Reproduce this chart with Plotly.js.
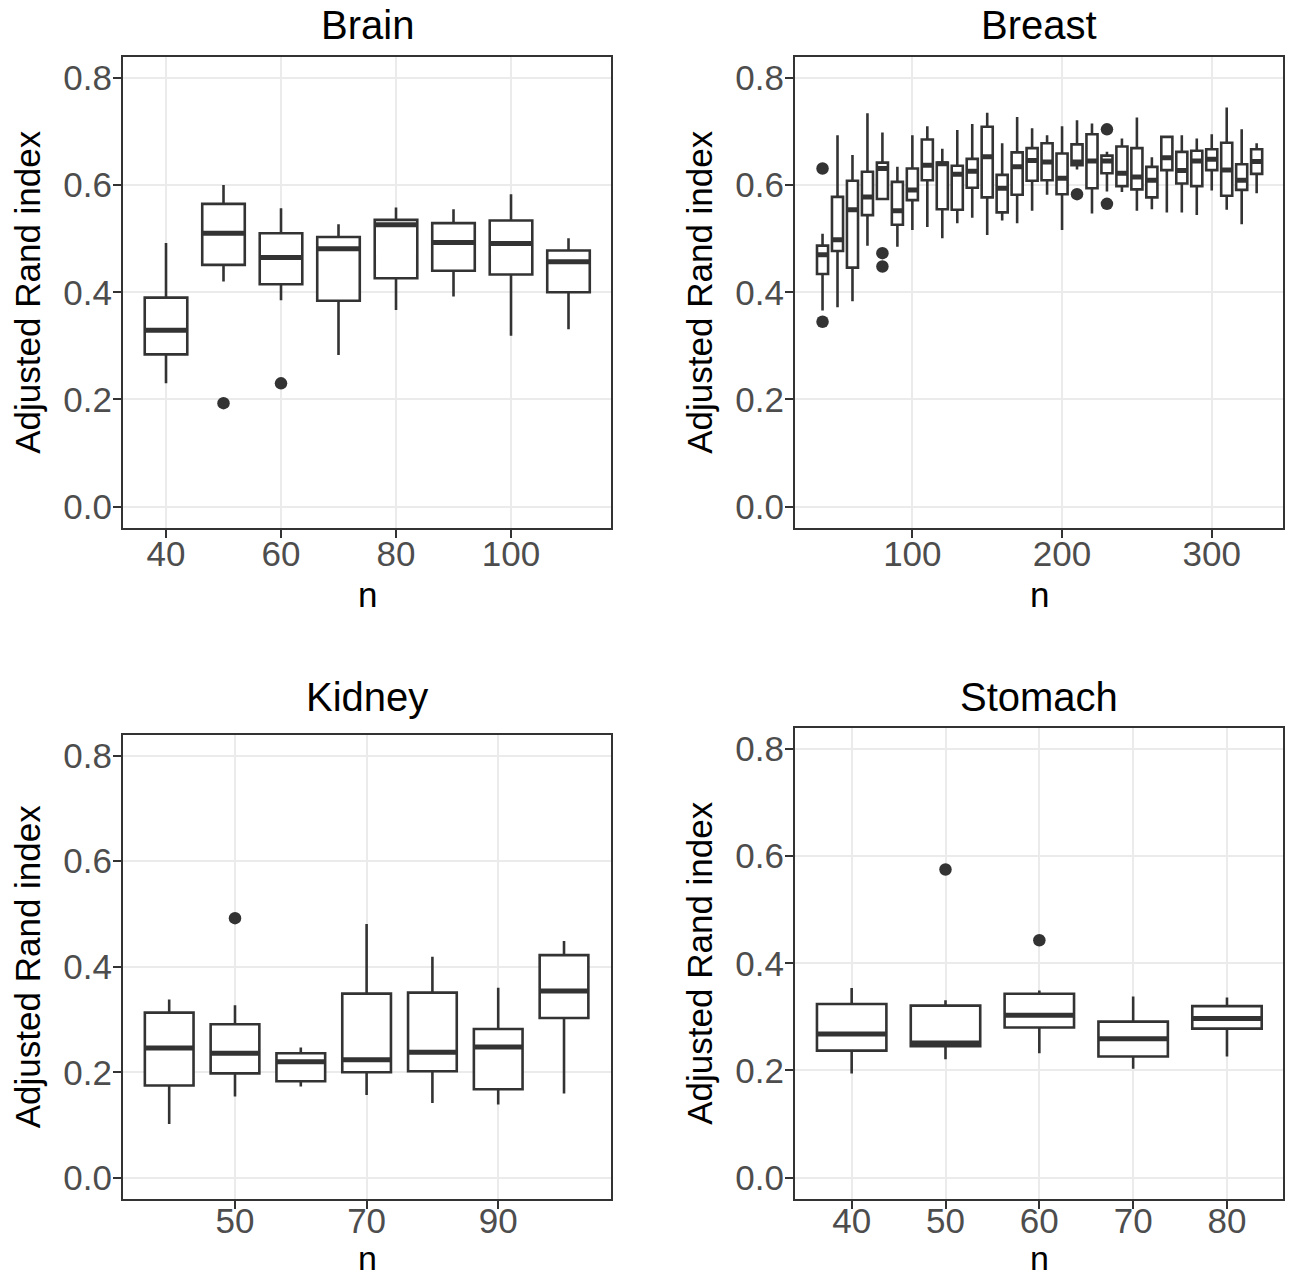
<!DOCTYPE html>
<html>
<head>
<meta charset="utf-8">
<script src="https://cdn.plot.ly/plotly-3.0.1.min.js"></script>
<style>html,body{margin:0;padding:0;background:#fff;}#chart{width:1290px;height:1278px;}</style>
</head>
<body>
<div id="chart"></div>
<script>
// ---------- DATA ----------
const panelTitles = ["Brain", "Breast", "Kidney", "Stomach"];
const yTickVals = [0, 0.2, 0.4, 0.6, 0.8];
const yTickText = ["0.0", "0.2", "0.4", "0.6", "0.8"];
const xTitle = "n";
const yTitle = "Adjusted Rand index";

// Brain
const brainN      = [40, 50, 60, 70, 80, 90, 100, 110];
const brainLower  = [0.230, 0.420, 0.385, 0.283, 0.367, 0.392, 0.319, 0.331];
const brainQ1     = [0.284, 0.451, 0.415, 0.384, 0.426, 0.440, 0.433, 0.400];
const brainMedian = [0.329, 0.510, 0.465, 0.481, 0.526, 0.493, 0.491, 0.457];
const brainQ3     = [0.390, 0.565, 0.510, 0.503, 0.535, 0.529, 0.534, 0.478];
const brainUpper  = [0.492, 0.600, 0.557, 0.527, 0.558, 0.555, 0.583, 0.501];
const brainOutN   = [50, 60];
const brainOutY   = [0.193, 0.230];
const brainXTicks = [40, 60, 80, 100];

// Breast
const breastN      = [40, 50, 60, 70, 80, 90, 100, 110, 120, 130, 140, 150, 160, 170, 180,
                      190, 200, 210, 220, 230, 240, 250, 260, 270, 280, 290, 300, 310, 320, 330];
const breastLower  = [0.366, 0.372, 0.383, 0.487, 0.572, 0.485, 0.516, 0.522, 0.501, 0.529, 0.539, 0.507, 0.534, 0.529, 0.552,
                      0.582, 0.516, 0.629, 0.547, 0.588, 0.587, 0.552, 0.555, 0.549, 0.549, 0.544, 0.590, 0.554, 0.527, 0.585];
const breastQ1     = [0.434, 0.477, 0.446, 0.544, 0.574, 0.526, 0.572, 0.609, 0.555, 0.554, 0.595, 0.577, 0.549, 0.582, 0.608,
                      0.609, 0.583, 0.637, 0.594, 0.622, 0.598, 0.592, 0.577, 0.628, 0.603, 0.598, 0.628, 0.580, 0.591, 0.621];
const breastMedian = [0.470, 0.498, 0.554, 0.578, 0.631, 0.552, 0.591, 0.637, 0.640, 0.620, 0.626, 0.653, 0.594, 0.634, 0.646,
                      0.643, 0.613, 0.643, 0.645, 0.645, 0.622, 0.615, 0.609, 0.651, 0.627, 0.645, 0.648, 0.628, 0.609, 0.644];
const breastQ3     = [0.487, 0.578, 0.608, 0.625, 0.642, 0.606, 0.631, 0.685, 0.642, 0.636, 0.649, 0.709, 0.619, 0.661, 0.669,
                      0.678, 0.659, 0.676, 0.695, 0.655, 0.672, 0.669, 0.634, 0.690, 0.662, 0.664, 0.667, 0.679, 0.639, 0.667];
const breastUpper  = [0.509, 0.693, 0.656, 0.734, 0.698, 0.634, 0.693, 0.710, 0.668, 0.703, 0.714, 0.735, 0.678, 0.727, 0.706,
                      0.693, 0.710, 0.721, 0.715, 0.662, 0.687, 0.726, 0.652, 0.692, 0.693, 0.687, 0.695, 0.745, 0.704, 0.678];
const breastOutN   = [40, 40, 80, 80, 210, 230, 230];
const breastOutY   = [0.631, 0.345, 0.473, 0.448, 0.583, 0.704, 0.565];
const breastXTicks = [100, 200, 300];

// Kidney
const kidneyN      = [40, 50, 60, 70, 80, 90, 100];
const kidneyLower  = [0.102, 0.154, 0.173, 0.157, 0.142, 0.139, 0.160];
const kidneyQ1     = [0.175, 0.198, 0.183, 0.200, 0.202, 0.168, 0.303];
const kidneyMedian = [0.246, 0.236, 0.220, 0.224, 0.238, 0.248, 0.354];
const kidneyQ3     = [0.313, 0.291, 0.236, 0.349, 0.351, 0.282, 0.422];
const kidneyUpper  = [0.338, 0.327, 0.247, 0.481, 0.419, 0.360, 0.449];
const kidneyOutN   = [50];
const kidneyOutY   = [0.492];
const kidneyXTicks = [50, 70, 90];

// Stomach
const stomachN      = [40, 50, 60, 70, 80];
const stomachLower  = [0.194, 0.221, 0.232, 0.203, 0.226];
const stomachQ1     = [0.237, 0.245, 0.280, 0.226, 0.278];
const stomachMedian = [0.268, 0.251, 0.303, 0.259, 0.297];
const stomachQ3     = [0.324, 0.321, 0.343, 0.291, 0.320];
const stomachUpper  = [0.354, 0.331, 0.349, 0.338, 0.336];
const stomachOutN   = [50, 60];
const stomachOutY   = [0.575, 0.443];
const stomachXTicks = [40, 50, 60, 70, 80];

// ---------- STYLE / LAYOUT ----------
const W = 1290, H = 1278;
const INK = "#333333";
const FONT = "Liberation Sans, Arial, Helvetica, sans-serif";
const BOXW = 7.4;

function fx(px) { return px / W; }
function fy(py) { return 1 - py / H; }

const panels = [
  {ax: "", n: brainN, lo: brainLower, q1: brainQ1, md: brainMedian, q3: brainQ3, hi: brainUpper,
   on: brainOutN, oy: brainOutY, xt: brainXTicks, xr: [32.52, 117.39],
   frame: [123, 611, 56.5, 528], titleY: 25, nY: 595, nAnchor: "middle", nSize: 35, xStand: -14},
  {ax: "2", n: breastN, lo: breastLower, q1: breastQ1, md: breastMedian, q3: breastQ3, hi: breastUpper,
   on: breastOutN, oy: breastOutY, xt: breastXTicks, xr: [21.6, 347.6],
   frame: [795, 1283, 56.5, 528], titleY: 25, nY: 595, nAnchor: "middle", nSize: 35, xStand: -14},
  {ax: "3", n: kidneyN, lo: kidneyLower, q1: kidneyQ1, md: kidneyMedian, q3: kidneyQ3, hi: kidneyUpper,
   on: kidneyOutN, oy: kidneyOutY, xt: kidneyXTicks, xr: [32.98, 107.14],
   frame: [123, 611, 734.5, 1199], titleY: 697, nY: 1278, nAnchor: "bottom", nSize: 34, xStand: -18},
  {ax: "4", n: stomachN, lo: stomachLower, q1: stomachQ1, md: stomachMedian, q3: stomachQ3, hi: stomachUpper,
   on: stomachOutN, oy: stomachOutY, xt: stomachXTicks, xr: [33.96, 85.97],
   frame: [795, 1283, 727.5, 1199], titleY: 697, nY: 1278, nAnchor: "bottom", nSize: 34, xStand: -18}
];

const data = [];
const layout = {
  width: W, height: H,
  margin: {l: 0, r: 0, t: 0, b: 0},
  paper_bgcolor: "#ffffff",
  plot_bgcolor: "#ffffff",
  showlegend: false,
  font: {family: FONT, color: "#000000"},
  annotations: []
};

panels.forEach((p, i) => {
  const xa = "x" + p.ax, ya = "y" + p.ax;
  data.push({
    type: "box", x: p.n, q1: p.q1, median: p.md, q3: p.q3,
    lowerfence: p.lo, upperfence: p.hi,
    width: BOXW, whiskerwidth: 0, boxpoints: false,
    fillcolor: "#ffffff", line: {color: INK, width: 2.6},
    xaxis: xa, yaxis: ya, hoverinfo: "skip", showlegend: false
  });
  // thick median segments
  const mx = [], my = [];
  p.n.forEach((v, j) => { mx.push(v - BOXW / 2, v + BOXW / 2, null); my.push(p.md[j], p.md[j], null); });
  data.push({
    type: "scatter", mode: "lines", x: mx, y: my,
    line: {color: INK, width: 5}, xaxis: xa, yaxis: ya, hoverinfo: "skip", showlegend: false
  });
  data.push({
    type: "scatter", mode: "markers", x: p.on, y: p.oy,
    marker: {color: INK, size: 12.5}, xaxis: xa, yaxis: ya, hoverinfo: "skip", showlegend: false
  });

  const [l, r, t, b] = p.frame;
  const common = {
    showgrid: true, gridcolor: "#EBEBEB", gridwidth: 2,
    zeroline: false, showline: true, mirror: true, linecolor: INK, linewidth: 2,
    ticks: "outside", ticklen: 8, tickwidth: 2, tickcolor: INK,
    tickfont: {family: FONT, size: 35, color: "#4D4D4D"},
    automargin: false
  };
  layout["xaxis" + p.ax] = Object.assign({}, common, {
    domain: [fx(l), fx(r)], anchor: ya, range: p.xr,
    tickmode: "array", tickvals: p.xt, ticklabelstandoff: p.xStand
  });
  layout["yaxis" + p.ax] = Object.assign({}, common, {
    domain: [fy(b), fy(t)], anchor: xa, range: [-0.04, 0.84],
    tickmode: "array", tickvals: yTickVals, ticktext: yTickText, ticklabelstandoff: -6,
    title: {text: yTitle, font: {family: FONT, size: 35, color: "#000000"}, standoff: 12}
  });
  layout.annotations.push({
    text: panelTitles[i], xref: "paper", yref: "paper",
    x: fx((l + r) / 2), y: fy(p.titleY), xanchor: "center", yanchor: "middle",
    showarrow: false, font: {family: FONT, size: 40, color: "#000000"}
  });
  // x-axis title "n"
  layout.annotations.push({
    text: xTitle, xref: "paper", yref: "paper",
    x: fx((l + r) / 2), y: fy(p.nY), xanchor: "center", yanchor: p.nAnchor, borderpad: 0,
    showarrow: false, font: {family: FONT, size: p.nSize, color: "#000000"}
  });
});

Plotly.newPlot("chart", data, layout, {staticPlot: true, displayModeBar: false});
</script>
</body>
</html>
